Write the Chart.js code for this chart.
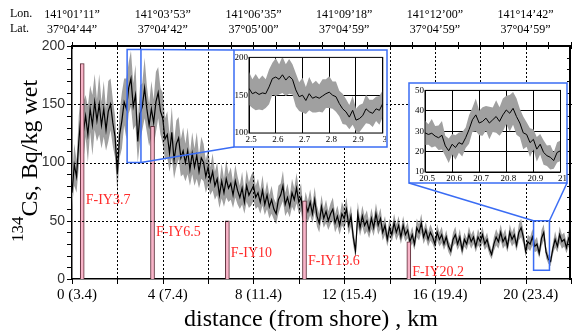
<!DOCTYPE html>
<html>
<head>
<meta charset="utf-8">
<script src="https://cdn.jsdelivr.net/npm/chart.js@4.4.1/dist/chart.umd.min.js"></script>
<style>
  body { margin: 0; background: #fff; }
  #wrap { position: relative; width: 576px; height: 332px; }
  canvas { position: absolute; background: #fff; }
</style>
</head>
<body>
<div id="wrap">
  <canvas id="main" width="576" height="332" style="left:0;top:0"></canvas>
  <canvas id="inset1" width="151" height="95" style="left:235px;top:51px"></canvas>
  <canvas id="inset2" width="156" height="98" style="left:410px;top:84px"></canvas>
</div>
<script>
// main transect, 134Cs (Bq/kg wet) every 0.1 km
const distStart = 0;
const distStep = 0.1;
const cs134 = [
  74, 98, 88, 118, 142, 126, 140, 124, 146, 132,
  152, 136, 150, 132, 146, 128, 144, 150, 134, 122,
  90, 124, 136, 152, 146, 164, 172, 148, 158, 118,
  142, 148, 164, 146, 132, 146, 134, 152, 160, 144,
  138, 120, 124, 108, 126, 102, 116, 121, 104, 110,
  100, 110, 94, 108, 96, 106, 92, 104, 100, 88,
  96, 84, 92, 80, 86, 72, 84, 74, 86, 78,
  82, 72, 84, 76, 70, 78, 66, 80, 72, 76,
  80, 70, 74, 66, 76, 64, 72, 62, 68, 60,
  56, 68, 72, 80, 64, 70, 62, 74, 68, 78,
  66, 70, 52, 64, 58, 66, 56, 68, 54, 48,
  62, 52, 58, 50, 56, 60, 48, 54, 46, 56,
  52, 60, 46, 54, 36, 24, 56, 44, 54, 46,
  50, 42, 52, 44, 56, 46, 52, 40, 46, 34,
  44, 38, 48, 40, 46, 36, 46, 38, 42, 32,
  38, 30, 44, 40, 48, 36, 42, 34, 40, 36,
  30, 40, 34, 38, 30, 36, 28, 24, 34, 38,
  30, 36, 25, 34, 30, 38, 32, 36, 28, 36,
  32, 38, 30, 34, 26, 21, 30, 36, 32, 40,
  32, 36, 28, 40, 34, 38, 29, 40, 44, 36,
  24, 32, 30, 36, 28, 30, 22, 35, 40, 23,
  17, 15, 26, 34, 28, 38, 32, 34, 27, 35,
  31
];
const cs134Err = [
  12, 18, 14, 22, 20, 26, 18, 24, 20, 26,
  24, 18, 26, 20, 24, 18, 26, 22, 20, 18,
  16, 20, 24, 20, 26, 22, 24, 20, 26, 18,
  24, 20, 26, 20, 18, 24, 20, 26, 22, 20,
  22, 18, 20, 16, 22, 16, 20, 18, 16, 20,
  16, 20, 14, 18, 16, 20, 14, 18, 16, 14,
  16, 12, 16, 12, 14, 11, 15, 12, 16, 12,
  14, 11, 14, 12, 10, 14, 10, 14, 11, 13,
  13, 10, 12, 10, 13, 9, 12, 10, 12, 9,
  9, 12, 10, 13, 10, 12, 9, 12, 10, 13,
  10, 12, 8, 11, 9, 11, 8, 11, 9, 8,
  10, 8, 10, 8, 9, 10, 8, 9, 8, 10,
  9, 10, 8, 9, 7, 6, 10, 7, 9, 8,
  9, 7, 9, 7, 9, 8, 9, 7, 8, 6,
  8, 6, 8, 7, 8, 6, 8, 6, 7, 6,
  7, 5, 8, 7, 8, 6, 7, 6, 7, 6,
  5, 7, 6, 7, 5, 6, 5, 5, 6, 7,
  5, 7, 5, 6, 5, 7, 6, 6, 5, 7,
  6, 7, 5, 6, 5, 4, 6, 7, 6, 7,
  6, 7, 5, 7, 6, 7, 5, 7, 8, 6,
  5, 6, 6, 7, 5, 6, 4, 7, 7, 5,
  4, 4, 5, 7, 5, 7, 6, 6, 5, 7,
  6
];

// sediment core stations
const stations = ['F-IY3.7', 'F-IY6.5', 'F-IY10', 'F-IY13.6', 'F-IY20.2'];
const stationDist = [0.45, 3.55, 6.85, 10.25, 14.85];
const stationValue = [185, 131, 50, 67, 32];

// axis labels
const xTickLabels = ['0 (3.4)', '4 (7.4)', '8 (11.4)', '12 (15.4)', '16 (19.4)', '20 (23.4)'];
const lonLabels = ['141°01’11”', '141°03’53”', '141°06’35”', '141°09’18”', '141°12’00”', '141°14’42”'];
const latLabels = ['37°04’44”', '37°04’42”', '37°05’00”', '37°04’59”', '37°04’59”', '37°04’59”'];

// zoomed windows
const zoom1Start = 2.5;
const zoom1Step = 0.0125;
const zoom1Values = [
  159, 152, 154, 151, 153, 152, 161, 172, 174, 171,
  177, 170, 175, 171, 157, 148, 150, 143, 152, 146,
  148, 146, 149, 152, 154, 150, 148, 139, 132, 128,
  121, 130, 117, 119, 123, 132, 128, 126, 132, 130,
  139
];
const zoom1Err = [
  22, 19, 24, 20, 23, 19, 23, 21, 25, 20,
  24, 21, 23, 20, 22, 19, 23, 18, 22, 19,
  21, 18, 22, 19, 21, 18, 20, 17, 20, 17,
  16, 19, 15, 18, 16, 19, 16, 18, 16, 19,
  18
];
const zoom2Start = 20.5;
const zoom2Step = 0.0125;
const zoom2Values = [
  29.2, 28.4, 29.0, 27.6, 26.8, 28.0, 22.8, 20.4, 23.6, 22.0,
  24.4, 23.6, 26.8, 30.8, 35.6, 38.0, 34.0, 34.8, 36.4, 34.0,
  35.6, 37.2, 34.8, 38.0, 40.4, 38.8, 41.2, 37.2, 34.0, 29.2,
  28.4, 24.4, 26.0, 21.2, 23.6, 19.6, 18.0, 17.2, 15.6, 19.6,
  20.4
];
const zoom2Err = [
  6, 5, 7, 5, 6, 7, 5, 6, 5, 6,
  5, 6, 5, 7, 6, 8, 6, 7, 6, 8,
  6, 8, 7, 8, 7, 9, 8, 9, 7, 8,
  6, 7, 5, 6, 5, 6, 5, 6, 4, 5,
  5
];

const SERIF = '"Liberation Serif", "Times New Roman", serif';
const SANS = '"Liberation Sans", Arial, sans-serif';
const BLUE = '#3a6cf4';
const BAND = '#a0a0a0';

function toPoints(start, step, vals, errs, sign) {
  return vals.map(function (v, i) {
    return { x: start + i * step, y: errs ? v + sign * errs[i] : v };
  });
}

function seriesSets(start, step, vals, errs, lw) {
  return [
    { data: toPoints(start, step, vals, errs, -1), borderWidth: 0, pointRadius: 0, fill: false, order: 3 },
    { data: toPoints(start, step, vals, errs, 1), borderWidth: 0, pointRadius: 0, fill: '-1', backgroundColor: BAND, order: 3 },
    { data: toPoints(start, step, vals), borderColor: '#000', borderWidth: lw, pointRadius: 0, fill: false, order: 2 }
  ];
}

// layout of the decorations (pixels / data units)
const inset1Frame = { x: 234, y: 50, w: 153, h: 97 };
const inset2Frame = { x: 409, y: 83, w: 158, h: 100 };
const region1 = { x0: 2.43, x1: 3.04, y0: 100, y1: 197 };
const region2 = { x0: 20.35, x1: 21.05, y0: 7.5, y1: 50 };
const stationLabelY = [67.5, 40, 22, 15, 6];

function seg(ctx, x1, y1, x2, y2) {
  ctx.beginPath();
  ctx.moveTo(x1, y1);
  ctx.lineTo(x2, y2);
  ctx.stroke();
}

const decor = {
  id: 'decor',
  afterDraw(chart) {
    const ctx = chart.ctx;
    const xs = chart.scales.x, ys = chart.scales.y;
    const L = Math.round(xs.getPixelForValue(0));
    const R = Math.round(xs.getPixelForValue(22));
    const T = Math.round(ys.getPixelForValue(200));
    const B = Math.round(ys.getPixelForValue(0));
    ctx.save();
    ctx.globalAlpha = 1;
    ctx.globalCompositeOperation = 'source-over';
    ctx.fillStyle = '#000000';

    // dotted grid (drawn as 1px dots)
    for (let d = 2; d < 22; d += 2) {
      const px = Math.round(xs.getPixelForValue(d));
      for (let y = T + 2; y < B; y += 4) ctx.fillRect(px, y, 1, 2);
    }
    for (let v = 50; v < 200; v += 50) {
      const py = Math.round(ys.getPixelForValue(v));
      for (let x = L + 2; x < R; x += 4) ctx.fillRect(x, py, 2, 1);
    }

    // tick marks
    for (let v = 0; v <= 200; v += 10) {
      const py = Math.round(ys.getPixelForValue(v));
      ctx.fillRect(L - 5, py, 5, 1);
      if (v > 0 && v < 200) ctx.fillRect(R - 4, py, 4, 1);
    }
    for (let d = 0; d <= 22; d += 2) {
      const px = Math.round(xs.getPixelForValue(d));
      ctx.fillRect(px, B, 1, 5);
    }
    for (let d = 0; d <= 22; d += 1) {
      const px = Math.round(xs.getPixelForValue(d));
      ctx.fillRect(px, T - 4, 1, 7);
    }

    // right axis
    ctx.fillRect(R - 2, T - 1, 2, B - T + 2);

    // station labels
    ctx.fillStyle = '#ff2a2a';
    ctx.font = '14px ' + SERIF;
    ctx.textBaseline = 'middle';
    ctx.textAlign = 'left';
    stations.forEach(function (s, i) {
      ctx.fillText(s, xs.getPixelForValue(stationDist[i]) + 3.5, ys.getPixelForValue(stationLabelY[i]));
    });

    // zoom regions and connectors
    ctx.strokeStyle = BLUE;
    ctx.lineWidth = 1.5;
    const r1 = { l: xs.getPixelForValue(region1.x0), r: xs.getPixelForValue(region1.x1), t: ys.getPixelForValue(region1.y1), b: ys.getPixelForValue(region1.y0) };
    ctx.strokeRect(r1.l, r1.t, r1.r - r1.l, r1.b - r1.t);
    ctx.strokeRect(inset1Frame.x, inset1Frame.y, inset1Frame.w, inset1Frame.h);
    seg(ctx, r1.r, r1.t, inset1Frame.x, inset1Frame.y);
    seg(ctx, r1.r, r1.b, inset1Frame.x, inset1Frame.y + inset1Frame.h);

    const r2 = { l: xs.getPixelForValue(region2.x0), r: xs.getPixelForValue(region2.x1), t: ys.getPixelForValue(region2.y1), b: ys.getPixelForValue(region2.y0) };
    ctx.strokeRect(r2.l, r2.t, r2.r - r2.l, r2.b - r2.t);
    ctx.strokeRect(inset2Frame.x, inset2Frame.y, inset2Frame.w, inset2Frame.h);
    seg(ctx, r2.l, r2.t, inset2Frame.x, inset2Frame.y + inset2Frame.h);
    seg(ctx, r2.r, r2.t, inset2Frame.x + inset2Frame.w, inset2Frame.y + inset2Frame.h);

    // Lon. / Lat.
    ctx.fillStyle = '#000';
    ctx.font = '12px ' + SERIF;
    ctx.fillText('Lon.', 10, 14);
    ctx.fillText('Lat.', 10, 29);

    // x title
    ctx.textAlign = 'center';
    ctx.textBaseline = 'alphabetic';
    ctx.font = '24px ' + SERIF;
    ctx.fillText('distance (from shore) , km', 311, 326);

    // y title with superscript
    ctx.translate(37, 161);
    ctx.rotate(-Math.PI / 2);
    ctx.textAlign = 'left';
    ctx.font = '17px ' + SERIF;
    const wSup = ctx.measureText('134').width;
    ctx.font = '24px ' + SERIF;
    const wMain = ctx.measureText('Cs, Bq/kg wet').width;
    const x0 = -(wSup + wMain) / 2;
    ctx.font = '17px ' + SERIF;
    ctx.fillText('134', x0, -14);
    ctx.font = '24px ' + SERIF;
    ctx.fillText('Cs, Bq/kg wet', x0 + wSup, 0);
    ctx.restore();
  }
};

const mainSets = seriesSets(distStart, distStep, cs134, cs134Err, 1.2);
mainSets.push({
  type: 'bar',
  data: stationDist.map(function (d, i) { return { x: d, y: stationValue[i] }; }),
  backgroundColor: '#f8b4c8',
  borderColor: '#5a2a35',
  borderWidth: 1,
  barThickness: 4,
  order: 0
});

new Chart(document.getElementById('main'), {
  type: 'line',
  data: { datasets: mainSets },
  options: {
    responsive: false,
    animation: false,
    layout: { padding: { left: 0, right: 1, top: 0, bottom: 0 } },
    plugins: { legend: { display: false }, tooltip: { enabled: false } },
    elements: { line: { tension: 0 } },
    scales: {
      x: {
        type: 'linear', min: 0, max: 22, offset: false,
        afterFit: function (s) { s.height = 53; },
        ticks: {
          stepSize: 2, autoSkip: false, maxRotation: 0, labelOffset: 5, padding: 2,
          color: '#000', font: { family: SERIF, size: 15 },
          callback: function (v) { return v % 4 === 0 ? xTickLabels[v / 4] : ''; }
        },
        grid: { display: false, drawTicks: true, tickLength: 5 },
        border: { display: true, color: '#000', width: 1.5 }
      },
      xTop: {
        type: 'linear', position: 'top', min: 0, max: 22, offset: false,
        afterFit: function (s) { s.height = 46; },
        ticks: {
          stepSize: 1, autoSkip: false, maxRotation: 0, padding: 5,
          color: '#000', font: { family: SERIF, size: 12, lineHeight: 1.25 },
          callback: function (v) { return v % 4 === 0 ? [lonLabels[v / 4], latLabels[v / 4]] : ''; }
        },
        grid: { display: false, drawTicks: true, tickLength: 4 },
        border: { display: true, color: '#000', width: 2 }
      },
      y: {
        min: 0, max: 200,
        afterFit: function (s) { s.width = 72; },
        ticks: {
          stepSize: 10, autoSkip: false, padding: 2,
          color: '#333', font: { family: SANS, size: 14 },
          callback: function (v) { return v % 50 === 0 ? String(v) : ''; }
        },
        grid: { display: false, drawTicks: true, tickLength: 5 },
        border: { display: true, color: '#000', width: 1.5 }
      }
    }
  },
  plugins: [decor]
});

const boxPlugin = {
  id: 'box',
  afterDraw(chart) {
    const xs = chart.scales.x, ys = chart.scales.y, ctx = chart.ctx;
    const l = xs.getPixelForValue(xs.min), r = xs.getPixelForValue(xs.max);
    const t = ys.getPixelForValue(ys.max), b = ys.getPixelForValue(ys.min);
    ctx.save();
    ctx.strokeStyle = '#000';
    ctx.lineWidth = 1;
    ctx.strokeRect(l, t, r - l, b - t);
    ctx.restore();
  }
};

function insetLabel(v) { return String(Number(v.toFixed(1))); }

function makeInset(id, start, step, vals, errs, xr, yr, cfg) {
  new Chart(document.getElementById(id), {
    type: 'line',
    data: { datasets: seriesSets(start, step, vals, errs, 1) },
    options: {
      responsive: false,
      animation: false,
      layout: { padding: { left: 0, right: cfg.padRight, top: cfg.padTop, bottom: 0 } },
      plugins: { legend: { display: false }, tooltip: { enabled: false } },
      elements: { line: { tension: 0 } },
      scales: {
        x: {
          type: 'linear', min: xr[0], max: xr[1],
          afterFit: function (s) { s.height = cfg.xHeight; },
          ticks: {
            stepSize: 0.1, autoSkip: false, maxRotation: 0, padding: 1, labelOffset: 2,
            color: '#000', font: { family: SERIF, size: 9 }, callback: insetLabel
          },
          grid: { color: '#000', lineWidth: 1, drawTicks: false }
        },
        y: {
          min: yr[0], max: yr[1],
          afterFit: function (s) { s.width = cfg.yWidth; },
          ticks: {
            stepSize: cfg.yStep, autoSkip: false, padding: 1,
            color: '#000', font: { family: SERIF, size: 9 }
          },
          grid: { color: cfg.yGrid, lineWidth: 1, drawTicks: false }
        }
      }
    },
    plugins: [boxPlugin]
  });
}

makeInset('inset1', zoom1Start, zoom1Step, zoom1Values, zoom1Err, [2.5, 3], [100, 200], {
  padRight: 3, padTop: 6, xHeight: 13, yWidth: 14, yStep: 50,
  yGrid: function (c) { return c.tick && c.tick.value === 150 ? '#000' : 'rgba(0,0,0,0)'; }
});
makeInset('inset2', zoom2Start, zoom2Step, zoom2Values, zoom2Err, [20.5, 21], [10, 50], {
  padRight: 3, padTop: 3, xHeight: 10, yWidth: 15, yStep: 10, yGrid: '#000'
});
</script>
</body>
</html>
